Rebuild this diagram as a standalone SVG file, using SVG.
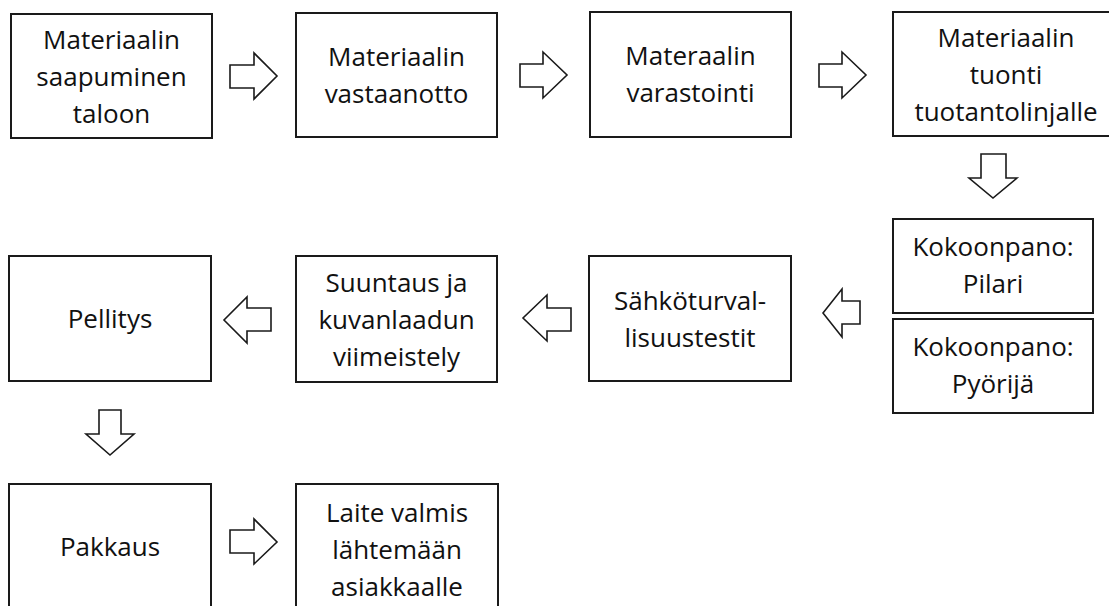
<svg xmlns="http://www.w3.org/2000/svg" width="1109" height="606" viewBox="0 0 1109 606">
  <style>
    .box { fill: #ffffff; stroke: #1a1a1a; stroke-width: 2; }
    .lbl { font-family: "Open Sans", "Noto Sans", "Liberation Sans", sans-serif; font-size: 26px; fill: #111111; text-anchor: middle; }
    .arrow { fill: #ffffff; stroke: #1a1a1a; stroke-width: 1.6; stroke-linejoin: miter; }
  </style>
  <rect width="1109" height="606" fill="#ffffff"/>

  <!-- process steps -->
  <g id="n1">
    <rect class="box" x="11" y="14" width="201" height="124"/>
    <text class="lbl" x="111.5"><tspan x="111.5" y="49">Materiaalin</tspan><tspan x="111.5" y="86">saapuminen</tspan><tspan x="111.5" y="123">taloon</tspan></text>
  </g>
  <g id="n2">
    <rect class="box" x="296" y="13" width="201" height="124"/>
    <text class="lbl" x="396.5"><tspan x="396.5" y="66">Materiaalin</tspan><tspan x="396.5" y="103">vastaanotto</tspan></text>
  </g>
  <g id="n3">
    <rect class="box" x="590" y="12" width="201" height="125"/>
    <text class="lbl" x="690.5"><tspan x="690.5" y="65">Materaalin</tspan><tspan x="690.5" y="102">varastointi</tspan></text>
  </g>
  <g id="n4">
    <rect class="box" x="893" y="12" width="228" height="124"/>
    <text class="lbl" x="1006"><tspan x="1006" y="47">Materiaalin</tspan><tspan x="1006" y="84">tuonti</tspan><tspan x="1006" y="121">tuotantolinjalle</tspan></text>
  </g>
  <g id="n5a">
    <rect class="box" x="893" y="219" width="200" height="94"/>
    <text class="lbl" x="993"><tspan x="993" y="256">Kokoonpano:</tspan><tspan x="993" y="293">Pilari</tspan></text>
  </g>
  <g id="n5b">
    <rect class="box" x="893" y="319" width="200" height="94"/>
    <text class="lbl" x="993"><tspan x="993" y="356">Kokoonpano:</tspan><tspan x="993" y="393">Pyörijä</tspan></text>
  </g>
  <g id="n6">
    <rect class="box" x="589" y="256" width="202" height="125"/>
    <text class="lbl" x="690"><tspan x="690" y="310">Sähköturval-</tspan><tspan x="690" y="347">lisuustestit</tspan></text>
  </g>
  <g id="n7">
    <rect class="box" x="296" y="256" width="201" height="126"/>
    <text class="lbl" x="396.5"><tspan x="396.5" y="292">Suuntaus ja</tspan><tspan x="396.5" y="329">kuvanlaadun</tspan><tspan x="396.5" y="366">viimeistely</tspan></text>
  </g>
  <g id="n8">
    <rect class="box" x="9" y="256" width="202" height="125"/>
    <text class="lbl" x="110" y="328">Pellitys</text>
  </g>
  <g id="n9">
    <rect class="box" x="9" y="484" width="202" height="140"/>
    <text class="lbl" x="110" y="556">Pakkaus</text>
  </g>
  <g id="n10">
    <rect class="box" x="296" y="484" width="202" height="140"/>
    <text class="lbl" x="397"><tspan x="397" y="522">Laite valmis</tspan><tspan x="397" y="559">lähtemään</tspan><tspan x="397" y="596">asiakkaalle</tspan></text>
  </g>

  <!-- block arrows between steps -->
  <g id="connectors">
    <polygon class="arrow" points="230,65 254,65 254,53 277,76 254,99 254,88 230,88"/>
    <polygon class="arrow" points="520,64 543,64 543,52 567,75 543,98 543,87 520,87"/>
    <polygon class="arrow" points="819,64 842,64 842,52 866,75 842,98 842,87 819,87"/>
    <polygon class="arrow" points="981,154 1006,154 1006,178 1017,178 993,198 969,178 981,178"/>
    <polygon class="arrow" points="860,301 842,301 842,289 823,313 842,337 842,324 860,324"/>
    <polygon class="arrow" points="571,308 547,308 547,295 523,318 547,341 547,331 571,331"/>
    <polygon class="arrow" points="271,308 247,308 247,297 224,320 247,343 247,331 271,331"/>
    <polygon class="arrow" points="99,410 121,410 121,434 134,434 110,455 86,434 99,434"/>
    <polygon class="arrow" points="230,530 254,530 254,519 277,542 254,564 254,553 230,553"/>
  </g>
</svg>
